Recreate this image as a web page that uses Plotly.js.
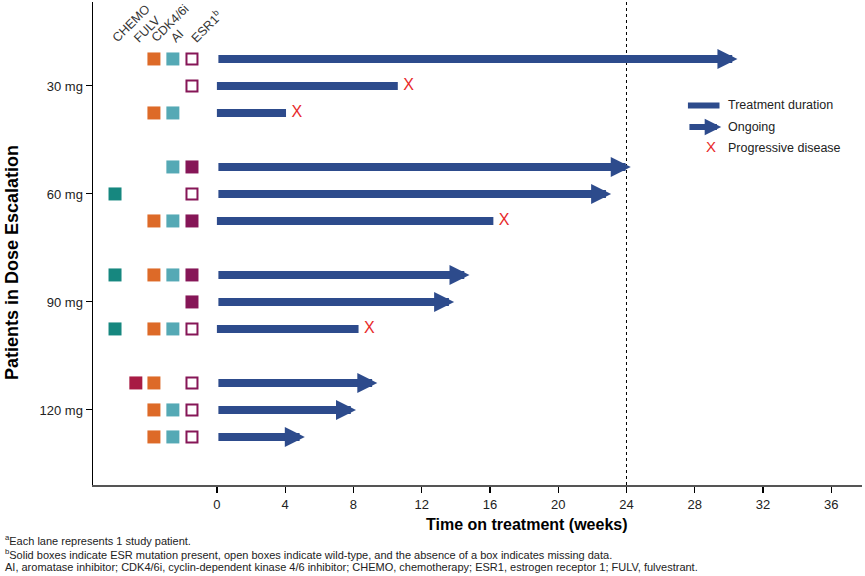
<!DOCTYPE html>
<html>
<head>
<meta charset="utf-8">
<script src="https://cdn.plot.ly/plotly-3.0.1.min.js"></script>
<style>html,body{margin:0;padding:0;background:#fff;}#chart{width:865px;height:576px;}</style>
</head>
<body>
<div id="chart"></div>
<script>
// ---------------- DATA ----------------
const doseLevels = ['30 mg', '60 mg', '90 mg', '120 mg'];
const doseLane = [2, 6, 10, 14];
const patientLane = [1, 2, 3, 5, 6, 7, 9, 10, 11, 13, 14, 15];
const weeksOnTreatment = [30.5, 10.6, 4.05, 24.25, 23.1, 16.2, 14.8, 13.9, 8.3, 9.4, 8.15, 5.15];
const ongoing = [1, 0, 0, 1, 1, 0, 1, 1, 0, 1, 1, 1];
const progressed = [0, 1, 1, 0, 0, 1, 0, 0, 1, 0, 0, 0];
const priorChemo = [0, 0, 0, 0, 1, 0, 1, 0, 1, 0, 0, 0];
const priorFulv = [0, 0, 0, 0, 0, 0, 0, 0, 0, 1, 0, 0];
const priorCdk = [1, 0, 1, 0, 0, 1, 1, 0, 1, 1, 1, 1];
const priorAi = [1, 0, 1, 1, 0, 1, 1, 0, 1, 0, 1, 1];
const esr1Status = ['wt', 'wt', '', 'mut', 'wt', 'mut', 'mut', 'mut', 'wt', 'wt', 'wt', 'wt'];
const columnHeaders = ['CHEMO', 'FULV', 'CDK4/6i', 'AI', 'ESR1<sup>b</sup>'];
const xTicks = [0, 4, 8, 12, 16, 20, 24, 28, 32, 36];
const cutoffWeek = 24;
const legendLabels = ['Treatment duration', 'Ongoing', 'Progressive disease'];
const footnotes = [
  '<sup>a</sup>Each lane represents 1 study patient.',
  '<sup>b</sup>Solid boxes indicate ESR mutation present, open boxes indicate wild-type, and the absence of a box indicates missing data.',
  'AI, aromatase inhibitor; CDK4/6i, cyclin-dependent kinase 4/6 inhibitor; CHEMO, chemotherapy; ESR1, estrogen receptor 1; FULV, fulvestrant.'
];

// ---------------- STYLE ----------------
const BLUE = '#2d4b8c';
const RED = '#e8292a';
const C_CHEMO = '#16877f';
const C_FULV = '#a81b44';
const C_CDK = '#dd6a28';
const C_AI = '#55a9b5';
const C_ESR = '#861657';
const colPos = [-5.97, -4.75, -3.69, -2.58, -1.46];
const X_OFFSET = 0.63; // gap between bar end and the progression mark (weeks)
const FONT = '"Liberation Sans Narrow", "Liberation Sans", Arial, sans-serif';
const BOLD = '"Liberation Sans", Arial, sans-serif';

const W = 865, H = 576, mL = 93, mR = 3, mT = 2, mB = 91;
const pw = W - mL - mR, ph = H - mT - mB;
function px2paperX(px) { return (px - mL) / pw; }
function px2paperY(py) { return (H - mB - py) / ph; }

function pick(flags, arr) { return arr.filter((_, i) => flags[i]); }

const traces = [];
// Completed durations as horizontal bars
const doneIdx = patientLane.map((_, i) => i).filter(i => !ongoing[i]);
traces.push({
  type: 'bar', orientation: 'h',
  y: doneIdx.map(i => patientLane[i]),
  x: doneIdx.map(i => weeksOnTreatment[i]),
  base: 0, width: 0.3,
  marker: { color: BLUE, line: { width: 0 } },
  hoverinfo: 'skip'
});

function squareTrace(flags, pos, color, open) {
  return {
    type: 'scatter', mode: 'markers',
    x: pick(flags, patientLane).map(() => pos),
    y: pick(flags, patientLane),
    marker: {
      symbol: 'square', size: open ? 11 : 13,
      color: open ? '#ffffff' : color,
      line: { color: color, width: open ? 2 : 0 }
    },
    hoverinfo: 'skip'
  };
}
traces.push(squareTrace(priorChemo, colPos[0], C_CHEMO, false));
traces.push(squareTrace(priorFulv, colPos[1], C_FULV, false));
traces.push(squareTrace(priorCdk, colPos[2], C_CDK, false));
traces.push(squareTrace(priorAi, colPos[3], C_AI, false));
traces.push(squareTrace(esr1Status.map(s => s === 'mut'), colPos[4], C_ESR, false));
traces.push(squareTrace(esr1Status.map(s => s === 'wt'), colPos[4], C_ESR, true));

// Progressive disease X
traces.push({
  type: 'scatter', mode: 'text',
  x: pick(progressed, weeksOnTreatment).map(v => v + X_OFFSET),
  y: pick(progressed, patientLane),
  text: pick(progressed, weeksOnTreatment).map(() => 'X'),
  textposition: 'middle center',
  textfont: { family: FONT, size: 16, color: RED },
  hoverinfo: 'skip'
});

// Legend samples (drawn in data space)
traces.push({
  type: 'scatter', mode: 'lines',
  x: [27.6, 29.45], y: [2.72, 2.72],
  line: { color: BLUE, width: 6 }, hoverinfo: 'skip'
});
traces.push({
  type: 'scatter', mode: 'text',
  x: [28.95], y: [4.3], text: ['X'],
  textfont: { family: FONT, size: 15, color: RED }, hoverinfo: 'skip'
});

const annotations = [];
// Ongoing arrows
patientLane.forEach((lane, i) => {
  if (!ongoing[i]) return;
  annotations.push({
    x: weeksOnTreatment[i], y: lane, xref: 'x', yref: 'y',
    ax: 0, ay: lane, axref: 'x', ayref: 'y',
    text: '', showarrow: true, arrowhead: 2, arrowsize: 0.5,
    arrowwidth: 8, arrowcolor: BLUE, standoff: 0
  });
});
// Legend arrow
annotations.push({
  x: 29.55, y: 3.52, xref: 'x', yref: 'y',
  ax: 27.6, ay: 3.52, axref: 'x', ayref: 'y',
  text: '', showarrow: true, arrowhead: 2, arrowsize: 0.55,
  arrowwidth: 6, arrowcolor: BLUE, standoff: 0
});
// Legend labels
[2.72, 3.52, 4.3].forEach((yy, k) => {
  annotations.push({
    x: 29.85, y: yy, xref: 'x', yref: 'y', xanchor: 'left', yanchor: 'middle',
    text: legendLabels[k], showarrow: false,
    font: { family: FONT, size: 12.5, color: '#222' }
  });
});
// Column headers
columnHeaders.forEach((h, k) => {
  annotations.push({
    x: colPos[k] - 0.45, y: 0.58, xref: 'x', yref: 'y',
    xanchor: 'left', yanchor: 'bottom', textangle: -45,
    text: h, showarrow: false,
    font: { family: FONT, size: 12.5, color: '#333' }
  });
});
// Axis titles
annotations.push({
  x: px2paperX(527), y: px2paperY(524), xref: 'paper', yref: 'paper',
  xanchor: 'center', yanchor: 'middle',
  text: '<b>Time on treatment (weeks)</b>',
  showarrow: false, font: { family: BOLD, size: 16, color: '#000' }
});
annotations.push({
  x: px2paperX(12), y: px2paperY(263), xref: 'paper', yref: 'paper',
  xanchor: 'center', yanchor: 'middle',
  text: '<b>Patients in Dose Escalation</b>',
  showarrow: false, textangle: -90, font: { family: BOLD, size: 18, color: '#000' }
});
// Footnotes
[540, 553.5, 567].forEach((py, k) => {
  annotations.push({
    x: px2paperX(3), y: px2paperY(py), xref: 'paper', yref: 'paper',
    xanchor: 'left', yanchor: 'middle',
    text: footnotes[k], showarrow: false, font: { family: FONT, size: 11, color: '#222' }
  });
});

const layout = {
  width: W, height: H,
  margin: { l: mL, r: mR, t: mT, b: mB, pad: 0 },
  paper_bgcolor: '#fff', plot_bgcolor: '#fff',
  showlegend: false, hovermode: false,
  barmode: 'overlay',
  xaxis: {
    range: [-7.26, 37.8], tickvals: xTicks, ticktext: xTicks.map(String),
    ticks: 'outside', ticklen: 6, tickwidth: 1.2, tickcolor: '#000',
    showline: true, linecolor: '#555', linewidth: 2,
    showgrid: false, zeroline: false,
    tickfont: { family: FONT, size: 13, color: '#222' }
  },
  yaxis: {
    range: [16.78, -1.11], tickvals: doseLane, ticktext: doseLevels,
    ticks: 'outside', ticklen: 6, tickwidth: 1, tickcolor: '#000',
    showline: true, linecolor: '#000', linewidth: 1.5,
    showgrid: false, zeroline: false,
    tickfont: { family: FONT, size: 13, color: '#222' }
  },
  shapes: [{
    type: 'line', xref: 'x', yref: 'paper', x0: cutoffWeek, x1: cutoffWeek, y0: 0, y1: 1,
    line: { color: '#000', width: 1, dash: 'dot' }
  }],
  annotations: annotations
};

Plotly.newPlot('chart', traces, layout, { displayModeBar: false, staticPlot: true });
</script>
</body>
</html>
